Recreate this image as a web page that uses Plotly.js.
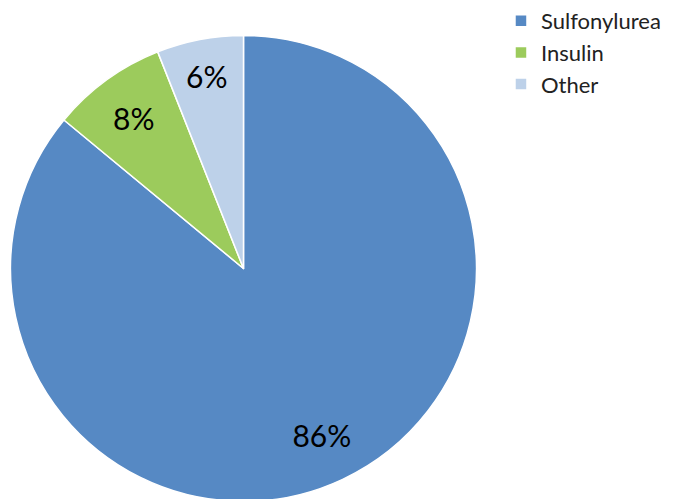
<!DOCTYPE html>
<html>
<head>
<meta charset="utf-8">
<script src="https://cdn.plot.ly/plotly-3.0.1.min.js"></script>
<style>
html,body{margin:0;padding:0;overflow:hidden;background:#fff;}
#chart{width:673px;height:504px;}
</style>
</head>
<body>
<div id="chart"></div>
<script>
const categories = ["Sulfonylurea", "Insulin", "Other"];
const values = [86, 8, 6];
const colors = ["#5689C4", "#9CCB5C", "#BDD1E9"];

const W = 673, H = 504;
const cx = 243.5, cy = 268.5, r = 233;
const FONT = "Lato, 'Open Sans', sans-serif";
const dom = {
  x: [(cx - r) / W, (cx + r) / W],
  y: [1 - (cy + r) / H, 1 - (cy - r) / H]
};
// the largest slice's label sits further out, as in the reference
const big = values.indexOf(Math.max(...values));

const data = [{
  type: "pie",
  labels: categories,
  values: values,
  sort: false,
  direction: "clockwise",
  rotation: 0,
  marker: {colors: colors, line: {color: "#ffffff", width: 1.5}},
  texttemplate: values.map((v, i) => i === big ? "" : "%{percent:.0%}"),
  textposition: "inside",
  insidetextorientation: "horizontal",
  textfont: {family: FONT, size: 30, color: "#000000"},
  hoverinfo: "label+percent",
  domain: dom
}, {
  type: "pie",
  labels: categories,
  values: values,
  sort: false,
  direction: "clockwise",
  rotation: 0,
  hole: 0.58,
  showlegend: false,
  marker: {colors: categories.map(() => "rgba(0,0,0,0)"), line: {width: 0}},
  texttemplate: values.map((v, i) => i === big ? "%{percent:.0%}" : ""),
  textposition: "inside",
  insidetextorientation: "horizontal",
  textfont: {family: FONT, size: 30, color: "#000000"},
  hoverinfo: "skip",
  domain: dom
}];

const layout = {
  width: W,
  height: H,
  margin: {l: 0, r: 0, t: 0, b: 0},
  paper_bgcolor: "#ffffff",
  showlegend: true,
  legend: {
    x: 0.7444, y: 1.0, xanchor: "left", yanchor: "top",
    font: {family: FONT, size: 22, color: "#222222"},
    itemwidth: 30,
    tracegroupgap: 0
  }
};

Plotly.newPlot("chart", data, layout, {displayModeBar: false, staticPlot: true});
</script>
</body>
</html>
